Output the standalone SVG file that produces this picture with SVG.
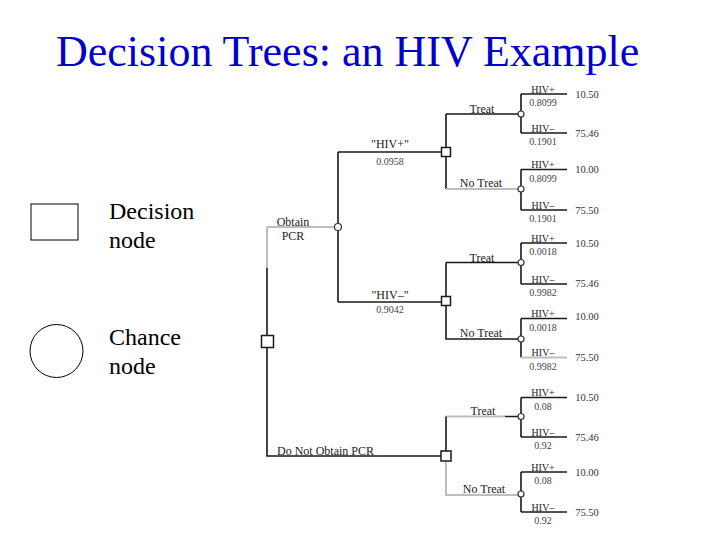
<svg xmlns="http://www.w3.org/2000/svg" width="720" height="540" viewBox="0 0 720 540">
<style>
.title{font-family:"Liberation Serif","Times New Roman",serif;font-size:44px;fill:#0000cc}
.leg{font-family:"Liberation Serif","Times New Roman",serif;font-size:24px;fill:#000}
.t{font-family:"Liberation Serif","Times New Roman",serif;fill:#222}
.br{font-size:12px;text-anchor:middle}
.lf{font-size:10px;text-anchor:middle}
.pr{font-size:10px;text-anchor:middle;fill:#444}
.val{font-size:10.5px;text-anchor:middle;fill:#333}
.ln{stroke:#1a1a1a;stroke-width:1.6;fill:none}
.lt{stroke:#bdbdbd;stroke-width:2;fill:none}
.dec{fill:#fff;stroke:#1a1a1a;stroke-width:1.5}
.ch{fill:#fff;stroke:#333;stroke-width:1.2}
</style>
<rect width="720" height="540" fill="#fff"/>
<text class="title" x="56" y="66">Decision Trees: an HIV Example</text>
<g id="legend-decision">
<rect x="31" y="204" width="47" height="36" fill="#fff" stroke="#000" stroke-width="1"/>
<text class="leg" x="109" y="219">Decision</text>
<text class="leg" x="109" y="248">node</text>
</g>
<g id="legend-chance">
<circle cx="56.5" cy="351" r="26.5" fill="#fff" stroke="#000" stroke-width="1"/>
<text class="leg" x="109" y="345">Chance</text>
<text class="leg" x="109" y="374">node</text>
</g>
<g id="connectors">
<path class="lt" d="M267 227 H338 M267 227 V268"/>
<path class="ln" d="M267 268 V456 H446"/>
<path class="ln" d="M338 152 V302 M338 152 H446 M338 302 H446"/>
<path class="ln" d="M446 114 V189 M446 114 H521" stroke-width="2.2"/>
<path class="lt" d="M446 189 H521"/>
<path class="ln" d="M446 262.5 V339 H521 M446 262.5 H521"/>
<path class="lt" d="M446 416.5 H505 M446 456 V495 H521"/>
<path class="ln" d="M505 416.5 H521 M446 416.5 V456"/>
<path class="ln" d="M521 94 V133 M521 94 H567 M521 133 H567"/>
<path class="ln" d="M521 169.5 V210 M521 169.5 H567 M521 210 H567"/>
<path class="ln" d="M521 243 V284 M521 243 H567 M521 284 H567"/>
<path class="ln" d="M521 318.5 V357.5 M521 318.5 H567"/>
<path class="lt" d="M521 357.5 H567"/>
<path class="ln" d="M521 397.5 V437 M521 397.5 H567 M521 437 H567"/>
<path class="ln" d="M521 472 V512 M521 472 H567 M521 512 H567"/>
<g class="t">
<text class="br" x="293" y="226">Obtain</text>
<text class="br" x="293" y="239.5">PCR</text>
<text class="br" x="277" y="454.5" style="text-anchor:start">Do Not Obtain PCR</text>
<text class="br" x="390" y="147.5">"HIV+"</text>
<text class="pr" x="390" y="165">0.0958</text>
<text class="br" x="390" y="298.5">"HIV–"</text>
<text class="pr" x="390" y="312.5">0.9042</text>
<text class="br" x="482" y="113">Treat</text>
<text class="br" x="481" y="186.5">No Treat</text>
<text class="br" x="482" y="261.5">Treat</text>
<text class="br" x="481" y="336.5">No Treat</text>
<text class="br" x="483" y="415">Treat</text>
<text class="br" x="484" y="492.5">No Treat</text>
<text class="lf" x="543" y="92.5">HIV+</text>
<text class="pr" x="543" y="106">0.8099</text>
<text class="lf" x="543" y="131.5">HIV–</text>
<text class="pr" x="543" y="145">0.1901</text>
<text class="lf" x="543" y="168">HIV+</text>
<text class="pr" x="543" y="181.5">0.8099</text>
<text class="lf" x="543" y="208.5">HIV–</text>
<text class="pr" x="543" y="222">0.1901</text>
<text class="lf" x="543" y="241.5">HIV+</text>
<text class="pr" x="543" y="255">0.0018</text>
<text class="lf" x="543" y="282.5">HIV–</text>
<text class="pr" x="543" y="296">0.9982</text>
<text class="lf" x="543" y="317">HIV+</text>
<text class="pr" x="543" y="330.5">0.0018</text>
<text class="lf" x="543" y="356">HIV–</text>
<text class="pr" x="543" y="369.5">0.9982</text>
<text class="lf" x="543" y="396">HIV+</text>
<text class="pr" x="543" y="409.5">0.08</text>
<text class="lf" x="543" y="435.5">HIV–</text>
<text class="pr" x="543" y="449">0.92</text>
<text class="lf" x="543" y="470.5">HIV+</text>
<text class="pr" x="543" y="484">0.08</text>
<text class="lf" x="543" y="510.5">HIV–</text>
<text class="pr" x="543" y="524">0.92</text>
</g>
</g>
<g id="root-decision"><rect class="dec" x="261.5" y="335.5" width="12" height="12"/></g>
<g id="chance-obtain-pcr"><circle class="ch" cx="338" cy="227" r="3.5"/></g>
<g id="decision-hiv-pos"><rect class="dec" x="441.5" y="147.5" width="9" height="9"/></g>
<g id="decision-hiv-neg"><rect class="dec" x="441.5" y="296.5" width="9" height="9" stroke="#888"/></g>
<g id="decision-no-pcr"><rect class="dec" x="441" y="451" width="10" height="10"/></g>
<g id="chance-1"><circle class="ch" cx="521" cy="114" r="3"/></g>
<g id="chance-2"><circle class="ch" cx="521" cy="189" r="3"/></g>
<g id="chance-3"><circle class="ch" cx="521" cy="262.5" r="3"/></g>
<g id="chance-4"><circle class="ch" cx="521" cy="339" r="3"/></g>
<g id="chance-5"><circle class="ch" cx="521" cy="416.5" r="3"/></g>
<g id="chance-6"><circle class="ch" cx="521" cy="494" r="3"/></g>
<g id="outcomes" class="t">
<text class="val" x="587" y="97.5">10.50</text>
<text class="val" x="587" y="136.5">75.46</text>
<text class="val" x="587" y="173">10.00</text>
<text class="val" x="587" y="213.5">75.50</text>
<text class="val" x="587" y="246.5">10.50</text>
<text class="val" x="587" y="287">75.46</text>
<text class="val" x="587" y="320">10.00</text>
<text class="val" x="587" y="361">75.50</text>
<text class="val" x="587" y="401">10.50</text>
<text class="val" x="587" y="440.5">75.46</text>
<text class="val" x="587" y="475.5">10.00</text>
<text class="val" x="587" y="515.5">75.50</text>
</g>
</svg>
